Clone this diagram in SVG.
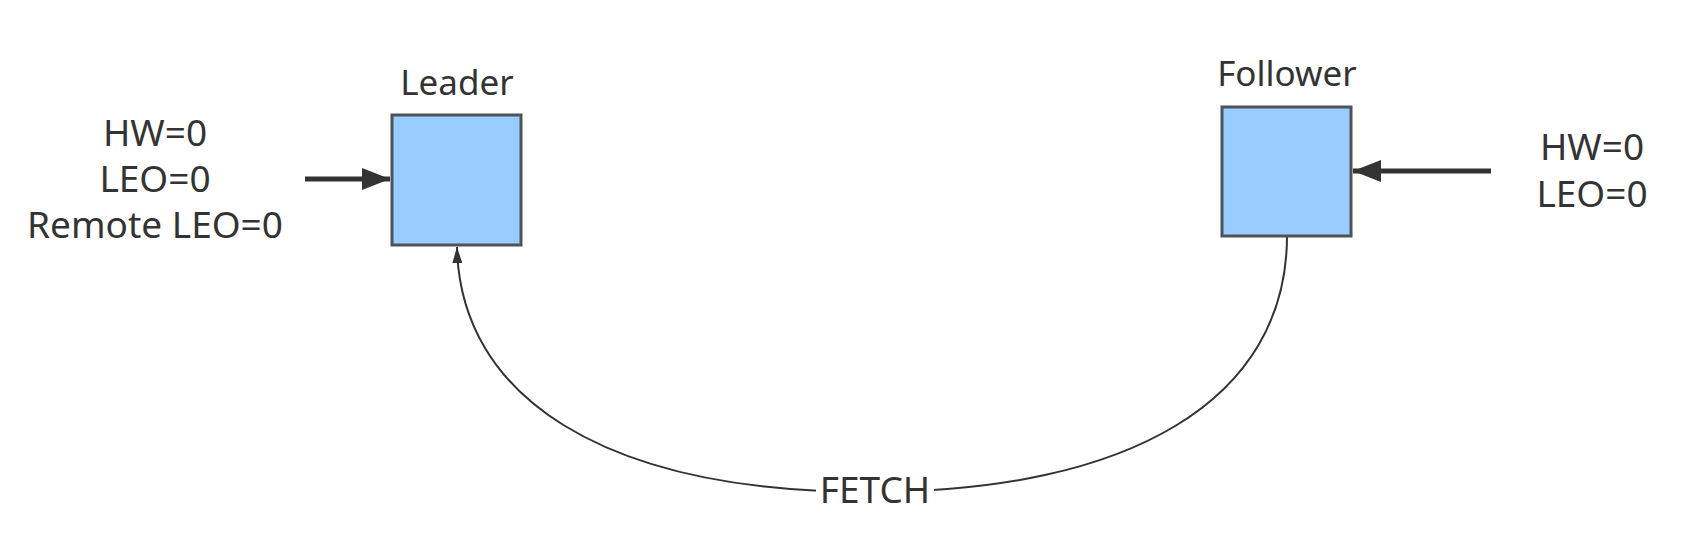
<svg xmlns="http://www.w3.org/2000/svg" width="1684" height="560" viewBox="0 0 1684 560">
<style>
.box{fill:#99ccff;stroke:#4d5359;stroke-width:3}
.t{font-family:"Noto Sans","Liberation Sans",sans-serif;fill:#333;text-anchor:middle}
.lbl{font-size:37px}
.cap{font-size:35px}
.thick{stroke:#333;stroke-width:5;fill:none}
.thin{stroke:#333;stroke-width:2;fill:none}
</style>
<defs>
<marker id="big" markerUnits="userSpaceOnUse" viewBox="0 0 28 22" refX="28" refY="11" markerWidth="28" markerHeight="22" orient="auto">
<path d="M0,0 L28,11 L0,22 Z" fill="#333"/>
</marker>
<marker id="small" markerUnits="userSpaceOnUse" viewBox="0 0 16 10" refX="16" refY="5" markerWidth="16" markerHeight="10" orient="auto">
<path d="M0,0 L16,5 L0,10 Z" fill="#333"/>
</marker>
</defs>
<rect width="1684" height="560" fill="#fff"/>
<g id="connectors">
<line class="thick" x1="305" y1="179" x2="390" y2="179" marker-end="url(#big)"/>
<line class="thick" x1="1491" y1="171" x2="1353" y2="171" marker-end="url(#big)"/>
<path class="thin" d="M1287,236 C1287,400 1130,492 870,492 C600,492 460,395 457,247" marker-end="url(#small)"/>
<g id="fetch-label">
<rect x="816" y="468" width="118" height="44" fill="#fff"/>
<text class="t" x="875" y="503" style="font-size:37px">FETCH</text>
</g>
</g>
<g id="leader">
<rect class="box" x="392" y="115" width="129" height="130"/>
<text class="t cap" x="457" y="95">Leader</text>
</g>
<g id="follower">
<rect class="box" x="1222" y="107" width="129" height="129"/>
<text class="t cap" x="1287" y="86">Follower</text>
</g>
<g id="leader-state">
<text class="t lbl" x="155" y="146">HW=0</text>
<text class="t lbl" x="155" y="192">LEO=0</text>
<text class="t lbl" x="155" y="238">Remote LEO=0</text>
</g>
<g id="follower-state">
<text class="t lbl" x="1592" y="160">HW=0</text>
<text class="t lbl" x="1592" y="207">LEO=0</text>
</g>
</svg>
